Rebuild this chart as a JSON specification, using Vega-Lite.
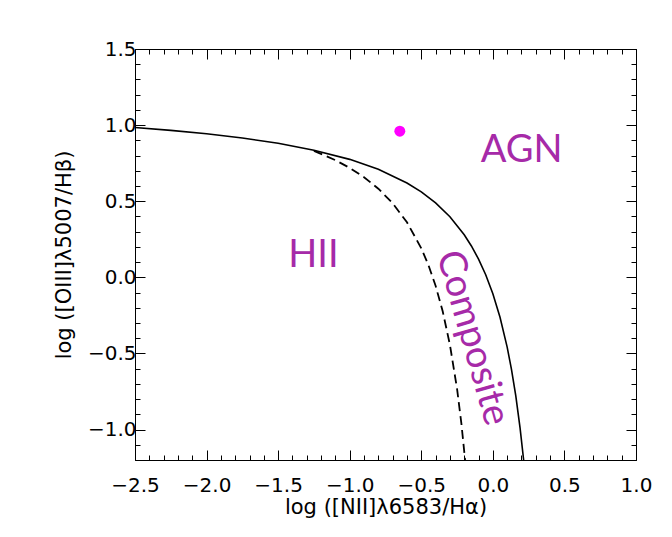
{
  "$schema": "https://vega.github.io/schema/vega-lite/v6.json",
  "width": 501,
  "height": 411,
  "autosize": "none",
  "padding": {"left": 135, "top": 49, "right": 36, "bottom": 77},
  "background": "white",
  "config": {
    "view": {"stroke": "black", "strokeWidth": 1},
    "axis": {
      "grid": false,
      "domainColor": "black",
      "domainWidth": 1,
      "tickColor": "black",
      "tickWidth": 1,
      "labelColor": "black",
      "labelFont": "DejaVu Sans",
      "labelFontSize": 20,
      "labelOverlap": false,
      "labelFlush": false,
      "labelBound": false,
      "titleColor": "black",
      "titleFont": "DejaVu Sans",
      "titleFontSize": 21,
      "titleFontWeight": "normal"
    }
  },
  "datasets": {
    "kewley": [
      {"x": -2.5, "y": 0.9846}, {"x": -2.25, "y": 0.9657}, {"x": -2.0, "y": 0.943},
      {"x": -1.75, "y": 0.9152}, {"x": -1.5, "y": 0.8804}, {"x": -1.25, "y": 0.8353},
      {"x": -1.0, "y": 0.775}, {"x": -0.8, "y": 0.7097}, {"x": -0.6, "y": 0.6199},
      {"x": -0.5, "y": 0.5611}, {"x": -0.4, "y": 0.4889}, {"x": -0.3, "y": 0.3978},
      {"x": -0.2, "y": 0.2796}, {"x": -0.15, "y": 0.2061}, {"x": -0.1, "y": 0.1198},
      {"x": -0.05, "y": 0.0169}, {"x": 0.0, "y": -0.1079}, {"x": 0.05, "y": -0.2624},
      {"x": 0.1, "y": -0.4586}, {"x": 0.13, "y": -0.6041}, {"x": 0.16, "y": -0.7777},
      {"x": 0.19, "y": -0.9886}, {"x": 0.215, "y": -1.2}
    ],
    "kauffmann": [
      {"x": -1.25, "y": 0.8308}, {"x": -1.1, "y": 0.7696}, {"x": -1.0, "y": 0.719},
      {"x": -0.9, "y": 0.6579}, {"x": -0.8, "y": 0.5824}, {"x": -0.7, "y": 0.4867},
      {"x": -0.6, "y": 0.3615}, {"x": -0.5, "y": 0.1909}, {"x": -0.45, "y": 0.08},
      {"x": -0.4, "y": -0.0556}, {"x": -0.35, "y": -0.225}, {"x": -0.3, "y": -0.4429},
      {"x": -0.25, "y": -0.7333}, {"x": -0.22, "y": -0.9593}, {"x": -0.194, "y": -1.2}
    ],
    "points": [{"x": -0.65, "y": 0.96}],
    "labels": [
      {"x": 0.201, "y": 0.758, "label": "AGN"},
      {"x": -1.253, "y": 0.068, "label": "HII"}
    ],
    "rotated": [{"x": -0.145, "y": -0.399, "label": "Composite"}]
  },
  "layer": [
    {
      "data": {"name": "kewley"},
      "mark": {"type": "line", "color": "black", "strokeWidth": 1.6},
      "encoding": {
        "x": {
          "field": "x", "type": "quantitative",
          "scale": {"domain": [-2.5, 1.0], "nice": false, "zero": false},
          "axis": {
            "orient": "bottom",
            "values": [-2.5, -2.0, -1.5, -1.0, -0.5, 0, 0.5, 1.0],
            "format": ".1f",
            "tickSize": -10,
            "labelPadding": 25,
            "title": "log ([NII]λ6583/Hα)",
            "titlePadding": 1
          }
        },
        "y": {
          "field": "y", "type": "quantitative",
          "scale": {"domain": [-1.2, 1.5], "nice": false, "zero": false},
          "axis": {
            "orient": "left",
            "values": [-1.0, -0.5, 0, 0.5, 1.0, 1.5],
            "format": ".1f",
            "tickSize": -10,
            "labelPadding": 9,
            "title": "log ([OIII]λ5007/Hβ)",
            "titlePadding": 13
          }
        }
      }
    },
    {
      "data": {"name": "kauffmann"},
      "mark": {"type": "line", "color": "black", "strokeWidth": 1.8, "strokeDash": [9, 5]},
      "encoding": {
        "x": {
          "field": "x", "type": "quantitative",
          "axis": {
            "orient": "top",
            "values": [-2.5, -2.0, -1.5, -1.0, -0.5, 0, 0.5, 1.0],
            "labels": false,
            "title": null,
            "tickSize": -10
          }
        },
        "y": {
          "field": "y", "type": "quantitative",
          "axis": {
            "orient": "right",
            "values": [-1.0, -0.5, 0, 0.5, 1.0, 1.5],
            "labels": false,
            "title": null,
            "tickSize": -10
          }
        }
      }
    },
    {
      "data": {"name": "points"},
      "mark": {"type": "point", "shape": "circle", "filled": true, "color": "#ff00ff", "opacity": 1, "size": 120},
      "encoding": {
        "x": {
          "field": "x", "type": "quantitative",
          "axis": {
            "orient": "bottom",
            "values": [-2.4,-2.3,-2.2,-2.1,-1.9,-1.8,-1.7,-1.6,-1.4,-1.3,-1.2,-1.1,-0.9,-0.8,-0.7,-0.6,-0.4,-0.3,-0.2,-0.1,0.1,0.2,0.3,0.4,0.6,0.7,0.8,0.9],
            "labels": false,
            "domain": false,
            "title": null,
            "tickSize": -5
          }
        },
        "y": {
          "field": "y", "type": "quantitative",
          "axis": {
            "orient": "left",
            "values": [-1.1,-0.9,-0.8,-0.7,-0.6,-0.4,-0.3,-0.2,-0.1,0.1,0.2,0.3,0.4,0.6,0.7,0.8,0.9,1.1,1.2,1.3,1.4],
            "labels": false,
            "domain": false,
            "title": null,
            "tickSize": -5
          }
        }
      }
    },
    {
      "data": {"name": "labels"},
      "mark": {"type": "text", "font": "Lato", "fontSize": 38, "color": "#a62aa8", "align": "center", "baseline": "alphabetic"},
      "encoding": {
        "x": {
          "field": "x", "type": "quantitative",
          "axis": {
            "orient": "top",
            "values": [-2.4,-2.3,-2.2,-2.1,-1.9,-1.8,-1.7,-1.6,-1.4,-1.3,-1.2,-1.1,-0.9,-0.8,-0.7,-0.6,-0.4,-0.3,-0.2,-0.1,0.1,0.2,0.3,0.4,0.6,0.7,0.8,0.9],
            "labels": false,
            "domain": false,
            "title": null,
            "tickSize": -5
          }
        },
        "y": {
          "field": "y", "type": "quantitative",
          "axis": {
            "orient": "right",
            "values": [-1.1,-0.9,-0.8,-0.7,-0.6,-0.4,-0.3,-0.2,-0.1,0.1,0.2,0.3,0.4,0.6,0.7,0.8,0.9,1.1,1.2,1.3,1.4],
            "labels": false,
            "domain": false,
            "title": null,
            "tickSize": -5
          }
        },
        "text": {"field": "label"}
      }
    },
    {
      "data": {"name": "rotated"},
      "mark": {"type": "text", "font": "Lato", "fontSize": 38, "color": "#a62aa8", "align": "center", "baseline": "middle", "angle": 74},
      "encoding": {
        "x": {"field": "x", "type": "quantitative", "axis": null},
        "y": {"field": "y", "type": "quantitative", "axis": null},
        "text": {"field": "label"}
      }
    }
  ],
  "resolve": {"axis": {"x": "independent", "y": "independent"}}
}
